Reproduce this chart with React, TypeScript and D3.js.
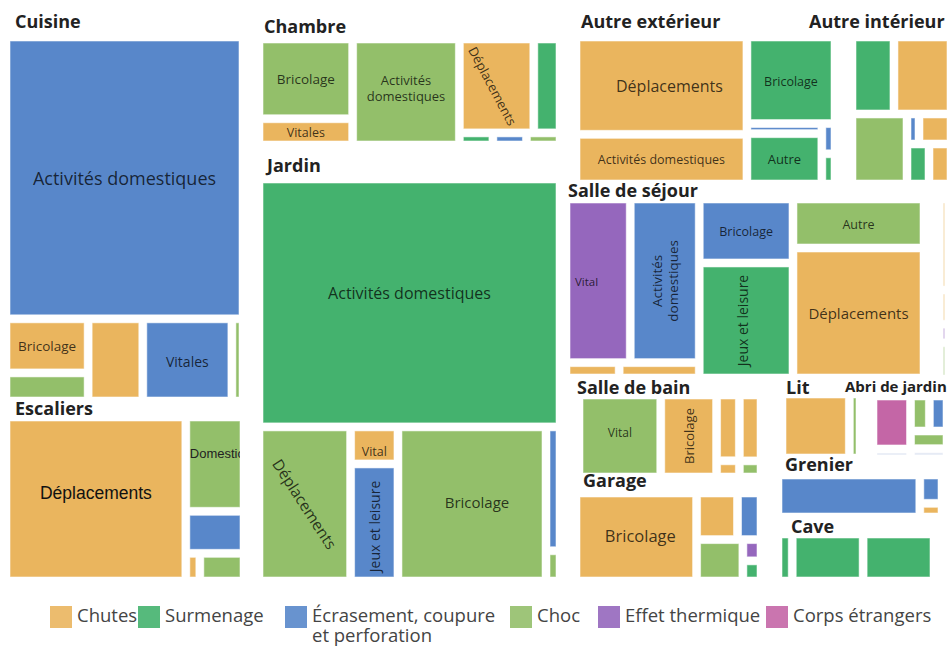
import React, { useMemo } from "react";
import * as d3 from "d3";

// injury categories (legend order)
const CH = "Chutes";
const SU = "Surmenage";
const EC = "Écrasement, coupure et perforation";
const CO = "Choc";
const ET = "Effet thermique";
const CE = "Corps étrangers";
const categories = [CH, SU, EC, CO, ET, CE];
const categoryColors = ["#EAB55E", "#44B26E", "#5887CA", "#93BF6A", "#9567BD", "#C466A6"];

type Cell = { label?: string; cat?: string; value?: number; dir?: "h" | "v"; children?: Cell[] };
// h = side by side, v = stacked
const H = (...children: Cell[]): Cell => ({ dir: "h", children });
const V = (...children: Cell[]): Cell => ({ dir: "v", children });
const c = (label: string, cat: string, value: number): Cell => ({ label, cat, value });

// values
const cuisine = V(
  c("Activités domestiques", EC, 666),
  H(V(c("Bricolage", CH, 44.3), c("", CO, 23)), c("", CH, 44.8), c("Vitales", EC, 73), c("", CO, 9.1))
);
const escaliers = H(
  c("Déplacements", CH, 296.8),
  V(c("Domestic", CO, 55.2), c("", EC, 24.6), H(c("", CH, 3.9), c("", CO, 12.3)))
);
const chambre = H(
  V(c("Bricolage", CO, 73.5), c("Vitales", CH, 24.2)),
  c("Activités domestiques", CO, 111.3),
  V(H(c("Déplacements", CH, 68.8), c("", SU, 24.2)), H(c("", SU, 4), c("", EC, 4), c("", CO, 4)))
);
const jardin = V(
  c("Activités domestiques", SU, 740.5),
  H(
    c("Déplacements", CO, 140.1),
    V(c("Vital", CH, 17.4), c("Jeux et leisure", EC, 55)),
    c("Bricolage", CO, 226.4),
    V(c("", EC, 17.2), c("", CO, 4.2))
  )
);
const autreExterieur = H(
  V(c("Déplacements", CH, 163.2), c("Activités domestiques", CH, 83.3)),
  V(c("Bricolage", SU, 74.8), H(V(c("", EC, 7.4), c("Autre", SU, 37)), V(c("", EC, 3.9), c("", SU, 3.9))))
);
const autreInterieur = V(
  H(c("", SU, 32.3), c("", CH, 43.9)),
  H(c("", CO, 38.5), V(H(c("", EC, 3.6), c("", CH, 9.6)), H(c("", SU, 8.8), c("", CH, 8.8))))
);
const salleSejour = H(
  V(H(c("Vital", ET, 104.3), c("Activités domestiques", EC, 112)), H(c("", CH, 8.1), c("", CH, 12.2))),
  V(c("Bricolage", EC, 59.5), c("Jeux et leisure", SU, 107)),
  V(c("Autre", CO, 63.7), c("Déplacements", CH, 169))
);
const cropped = V(c("", CH, 8.8), c("", CH, 3.3), c("", ET, 1.8), c("", CO, 3.5));
const salleBain = H(
  c("Vital", CO, 67.2),
  c("Bricolage", CH, 45.9),
  V(c("", CH, 15), c("", CH, 3.7)),
  V(c("", CH, 14.3), c("", CO, 3.5))
);
const garage = H(
  c("Bricolage", CH, 104.7),
  V(H(c("", CH, 18.8), c("", EC, 10.8)), H(c("", CO, 18.9), V(c("", ET, 3.8), c("", SU, 3.6))))
);
const lit = H(c("", CH, 43.5), c("", CO, 6.9));
const abri = H(
  V(c("", CE, 14.8), c("", "", 2.8)),
  V(H(c("", CO, 4.9), c("", EC, 4.6)), c("", CO, 4.8), c("", "", 2.8))
);
const grenier = H(c("", EC, 58.8), V(c("", EC, 6.2), c("", CH, 3.0)));
const cave = H(c("", SU, 6.6), c("", SU, 32.9), c("", SU, 32.9));

const rooms = [
  "Cuisine", "Escaliers", "Chambre", "Jardin", "Autre extérieur", "Autre intérieur",
  "Salle de séjour", "", "Salle de bain", "Garage", "Lit", "Abri de jardin", "Grenier", "Cave",
];
const roomCells = [
  cuisine, escaliers, chambre, jardin, autreExterieur, autreInterieur,
  salleSejour, cropped, salleBain, garage, lit, abri, grenier, cave,
];

// panel boxes: x, y, w, h, title x, title baseline
const panels: Record<string, number[]> = {
  Cuisine: [10, 41, 229, 356, 15, 28],
  Escaliers: [10, 421, 230, 156, 15, 415],
  Chambre: [263, 43, 293, 98, 264, 33],
  Jardin: [263, 183, 293, 394, 267, 172],
  "Autre extérieur": [580, 41, 251, 139, 581, 28],
  "Autre intérieur": [856, 41, 91, 139, 809, 28],
  "Salle de séjour": [570, 203, 350, 171, 568, 197],
  "": [943, 203, 2, 172, 0, 0],
  "Salle de bain": [583, 399, 174, 74, 577, 394],
  Garage: [580, 497, 177, 80, 583, 487],
  Lit: [786, 398, 70, 56, 786, 394],
  "Abri de jardin": [877, 400, 66, 55, 845, 392],
  Grenier: [782, 479, 156, 34, 785, 471],
  Cave: [782, 538, 148, 39, 791, 533],
};

const FONT = "'Open Sans', 'Noto Sans', sans-serif";
const ARIAL = "'Liberation Sans', Arial, sans-serif";

type LS = { size?: number; rotate?: number; dx?: number; dy?: number; lines?: string[]; font?: string; start?: boolean; color?: string };
const labelStyle: Record<string, LS> = {
  "Cuisine|Activités domestiques": { size: 18 },
  "Cuisine|Bricolage": { size: 13.5 },
  "Cuisine|Vitales": { size: 14, dy: 1 },
  "Escaliers|Déplacements": { size: 17.5, font: ARIAL, color: "#111", dy: -6 },
  "Escaliers|Domestic": { size: 13, font: ARIAL, start: true, dy: -11, color: "#222" },
  "Chambre|Bricolage": { size: 13.5 },
  "Chambre|Vitales": { size: 12.5 },
  "Chambre|Activités domestiques": { size: 13, lines: ["Activités", "domestiques"], dy: -4 },
  "Chambre|Déplacements": { size: 13, rotate: 62, dx: -4 },
  "Jardin|Activités domestiques": { size: 16, dy: -10 },
  "Jardin|Déplacements": { size: 15.5, rotate: 57 },
  "Jardin|Vital": { size: 12.5, dy: 6 },
  "Jardin|Jeux et leisure": { size: 14, rotate: -90, dy: 4 },
  "Jardin|Bricolage": { size: 15, dx: 5, dy: -2 },
  "Autre extérieur|Déplacements": { size: 16, dx: 8 },
  "Autre extérieur|Activités domestiques": { size: 12.5 },
  "Autre extérieur|Bricolage": { size: 12.5, dy: 1 },
  "Autre extérieur|Autre": { size: 13 },
  "Salle de séjour|Vital": { size: 11.5, start: true, dx: 5 },
  "Salle de séjour|Activités domestiques": { size: 13.5, rotate: -90, lines: ["Activités", "domestiques"] },
  "Salle de séjour|Bricolage": { size: 12.5 },
  "Salle de séjour|Autre": { size: 12.5 },
  "Salle de séjour|Déplacements": { size: 15 },
  "Salle de séjour|Jeux et leisure": { size: 14, rotate: -90, dx: -4 },
  "Salle de bain|Vital": { size: 12, dy: -4 },
  "Salle de bain|Bricolage": { size: 13, rotate: -90 },
  "Garage|Bricolage": { size: 16.5, dx: 4, dy: -2 },
};

const legendX = [50, 138, 285, 510, 598, 766];
const legendLines: Record<string, string[]> = { [EC]: ["Écrasement, coupure", "et perforation"] };

const colorOf = (cat?: string) => {
  const i = categories.indexOf(cat ?? "");
  return i >= 0 ? categoryColors[i] : "#E4E9F4";
};

function layoutRoom(tree: Cell, w: number, h: number) {
  const root = d3.hierarchy<Cell>(tree).sum((d) => d.value ?? 0);
  d3.treemap<Cell>()
    .size([w, h])
    .paddingInner(8)
    .tile((node: any, x0: number, y0: number, x1: number, y1: number) => {
      (node.data.dir === "v" ? d3.treemapSlice : d3.treemapDice)(node, x0, y0, x1, y1);
    })(root);
  return root.leaves() as d3.HierarchyRectangularNode<Cell>[];
}

export default function App() {
  const groups = useMemo(
    () =>
      rooms.map((room, i) => {
        const [x, y, w, h, tx, ty] = panels[room];
        return { room, x, y, tx, ty, leaves: layoutRoom(roomCells[i], w, h) };
      }),
    []
  );

  return (
    <svg
      width={949}
      height={647}
      style={{ position: "absolute", left: 0, top: 0, background: "#fff" }}
      fontFamily={FONT}
    >
      <defs>
        {groups.map((g, gi) =>
          g.leaves.map((d, li) => (
            <clipPath key={`cp${gi}-${li}`} id={`cp${gi}-${li}`}>
              <rect x={g.x + d.x0} y={g.y + d.y0} width={d.x1 - d.x0} height={d.y1 - d.y0} />
            </clipPath>
          ))
        )}
      </defs>
      {groups.map((g, gi) => (
        <g key={gi} opacity={g.room === "" ? 0.35 : 1}>
          {g.room && (
            <text
              x={g.tx}
              y={g.ty}
              fontSize={g.room === "Abri de jardin" ? 15 : 18}
              fontWeight={700}
              fill="#222"
            >
              {g.room}
            </text>
          )}
          {g.leaves.map((d, li) => {
            const w = d.x1 - d.x0;
            const h = d.y1 - d.y0;
            const label = d.data.label ?? "";
            const st = labelStyle[`${g.room}|${label}`] ?? {};
            const size = st.size ?? 12;
            const lines = st.lines ?? [label];
            const cx = st.start ? g.x + d.x0 + (st.dx ?? 0) : g.x + (d.x0 + d.x1) / 2 + (st.dx ?? 0);
            const cy = g.y + (d.y0 + d.y1) / 2 + (st.dy ?? 0);
            const lh = size * 1.2;
            return (
              <g key={li}>
                <rect
                  x={g.x + d.x0}
                  y={g.y + d.y0}
                  width={Math.max(w, 0)}
                  height={Math.max(h, 0)}
                  fill={colorOf(d.data.cat)}
                  stroke="rgba(255,255,255,0.55)"
                  strokeWidth={1}
                />
                {label && (
                  <g clipPath={`url(#cp${gi}-${li})`}>
                    <text
                      transform={`translate(${cx},${cy}) rotate(${st.rotate ?? 0})`}
                      textAnchor={st.start ? "start" : "middle"}
                      dominantBaseline="central"
                      fontSize={size}
                      fontFamily={st.font ?? FONT}
                      fill={st.color ?? "rgba(0,0,0,0.74)"}
                    >
                      {lines.map((t, k) => (
                        <tspan key={k} x={0} y={(k - (lines.length - 1) / 2) * lh}>
                          {t}
                        </tspan>
                      ))}
                    </text>
                  </g>
                )}
              </g>
            );
          })}
        </g>
      ))}
      <g>
        {categories.map((cat, i) => {
          const lines = legendLines[cat] ?? [cat];
          return (
            <g key={cat} transform={`translate(${legendX[i]},606)`}>
              <rect width={22} height={22} fill={categoryColors[i]} opacity={0.9} />
              {lines.map((t, k) => (
                <text key={k} x={27} y={16 + k * 20} fontSize={18.5} fill="#444">
                  {t}
                </text>
              ))}
            </g>
          );
        })}
      </g>
    </svg>
  );
}
